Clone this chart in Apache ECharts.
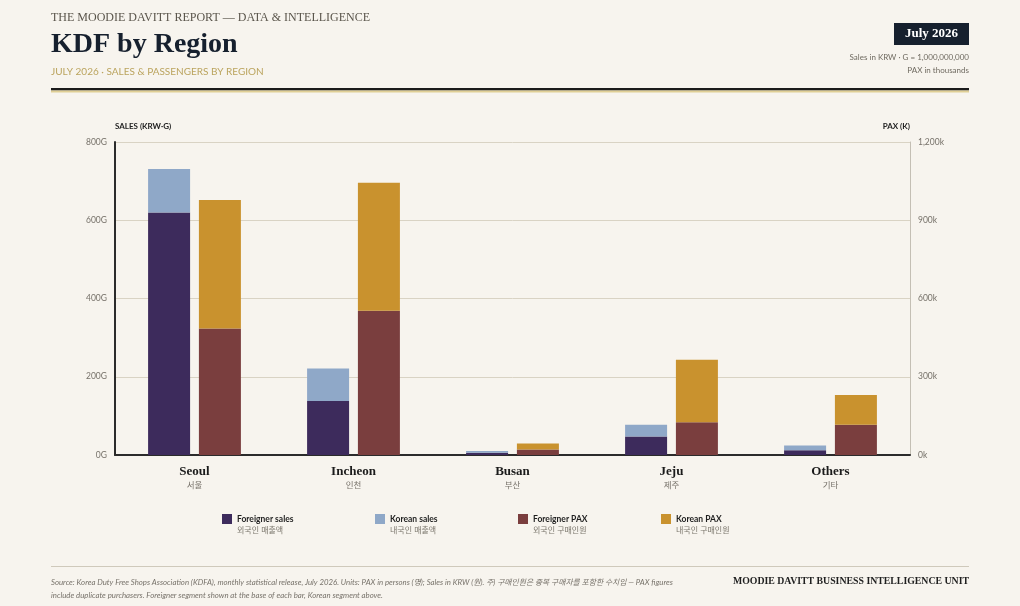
<!DOCTYPE html>
<html>
<head>
<meta charset="utf-8">
<script src="https://cdn.jsdelivr.net/npm/echarts@6/dist/echarts.min.js"></script>
<style>
  html, body { margin: 0; padding: 0; background: #f7f4ee; }
  #chart { width: 1020px; height: 606px; }
</style>
</head>
<body>
<div id="chart"></div>
<script>
// values (sales in G KRW, pax in thousands)
const regions = ['Seoul', 'Incheon', 'Busan', 'Jeju', 'Others'];
const regionsKo = ['서울', '인천', '부산', '제주', '기타'];
const foreignerSales = [620, 138, 6, 47, 12];
const koreanSales = [111, 83, 4, 30, 12];
const foreignerPax = [485, 553, 21, 126, 116];
const koreanPax = [493, 491, 23, 239, 114];

const seriesNames = ['Foreigner sales', 'Korean sales', 'Foreigner PAX', 'Korean PAX'];
const seriesNamesKo = ['외국인 매출액', '내국인 매출액', '외국인 구매인원', '내국인 구매인원'];
const seriesColors = ['#3d2b5c', '#8fa8c8', '#7a3e3e', '#c9922e'];

const salesTicks = { min: 0, max: 800, interval: 200 };
const paxTicks = { min: 0, max: 1200, interval: 300 };

const SERIF = '"Liberation Serif", "DejaVu Serif", serif';
const SANS = 'Lato, "Noto Sans", "Noto Sans CJK KR", sans-serif';
const ITALIC_SANS = 'Lato, "Noto Sans CJK KR", sans-serif';

const chart = echarts.init(document.getElementById('chart'), null, { renderer: 'canvas' });

const legendX = [222, 375, 518, 661];
const legends = seriesNames.map((name, i) => ({
  data: [name],
  left: legendX[i],
  top: 514,
  padding: 0,
  icon: 'rect',
  itemWidth: 10,
  itemHeight: 10,
  itemGap: 0,
  selectedMode: false,
  formatter: n => '{a|' + n + '}\n{b|' + seriesNamesKo[i] + '}',
  textStyle: {
    padding: [11, 0, 0, 0],
    rich: {
      a: { fontFamily: SANS, fontWeight: 'bold', fontSize: 8.5, color: '#1f1f1f', lineHeight: 11 },
      b: { fontFamily: SANS, fontSize: 8, color: '#7a756b', lineHeight: 11 }
    }
  }
}));

function barSeries(i, data, stack, axis) {
  return {
    name: seriesNames[i],
    type: 'bar',
    stack: stack,
    yAxisIndex: axis,
    data: data,
    barWidth: 42,
    barGap: '21%',
    itemStyle: { color: seriesColors[i] },
    emphasis: { disabled: true }
  };
}

chart.setOption({
  backgroundColor: '#f7f4ee',
  animation: false,
  grid: { left: 115, right: 110, top: 142, bottom: 151 },
  legend: legends,
  xAxis: {
    type: 'category',
    data: regions,
    axisTick: { show: false },
    axisLine: { lineStyle: { color: '#2b2b2b', width: 2 } },
    axisLabel: {
      margin: 9,
      formatter: (v, idx) => '{a|' + v + '}\n{b|' + regionsKo[idx] + '}',
      rich: {
        a: { fontFamily: SERIF, fontWeight: 'bold', fontSize: 13, color: '#1b1b1b', lineHeight: 15 },
        b: { fontFamily: SANS, fontSize: 8.5, color: '#77726a', lineHeight: 13 }
      }
    }
  },
  yAxis: [
    {
      type: 'value',
      min: salesTicks.min, max: salesTicks.max, interval: salesTicks.interval,
      name: 'SALES (KRW·G)',
      nameLocation: 'end',
      nameGap: 12,
      nameTextStyle: { align: 'left', fontFamily: SANS, fontWeight: 'bold', fontSize: 8, color: '#222' },
      axisLine: { show: true, lineStyle: { color: '#2b2b2b', width: 2 } },
      axisTick: { show: false },
      splitLine: { lineStyle: { color: '#d9d3c4', width: 1 } },
      axisLabel: { formatter: '{value}G', fontFamily: SANS, fontSize: 8.5, color: '#77726a', margin: 8 }
    },
    {
      type: 'value',
      min: paxTicks.min, max: paxTicks.max, interval: paxTicks.interval,
      name: 'PAX (K)',
      nameLocation: 'end',
      nameGap: 12,
      nameTextStyle: { align: 'right', fontFamily: SANS, fontWeight: 'bold', fontSize: 8, color: '#222' },
      axisLine: { show: true, lineStyle: { color: '#c4bfb4', width: 1 } },
      axisTick: { show: false },
      splitLine: { show: false },
      axisLabel: {
        formatter: v => v.toLocaleString('en-US') + 'k',
        fontFamily: SANS, fontSize: 8.5, color: '#77726a', margin: 8
      }
    }
  ],
  series: [
    barSeries(0, foreignerSales, 'sales', 0),
    barSeries(1, koreanSales, 'sales', 0),
    barSeries(2, foreignerPax, 'pax', 1),
    barSeries(3, koreanPax, 'pax', 1)
  ],
  graphic: [
    // header
    { type: 'text', left: 51, top: 12, style: { text: 'THE MOODIE DAVITT REPORT — DATA & INTELLIGENCE', font: '12px ' + SERIF, fill: '#5a554b' } },
    { type: 'text', left: 51, top: 31, style: { text: 'KDF by Region', font: 'bold 28px ' + SERIF, fill: '#16202e' } },
    { type: 'text', left: 51, top: 67, style: { text: 'JULY 2026 · SALES & PASSENGERS BY REGION', font: '10px ' + SANS, fill: '#bba45e' } },
    { type: 'rect', shape: { x: 51, y: 88, width: 918, height: 2.5 }, style: { fill: '#1b1b1b' } },
    { type: 'rect', shape: { x: 51, y: 90.5, width: 918, height: 2 }, style: { fill: '#e0cf95' } },
    { type: 'rect', shape: { x: 894, y: 23, width: 75, height: 22 }, style: { fill: '#16202e' } },
    { type: 'text', x: 931.5, y: 34, style: { text: 'July 2026', font: 'bold 13px ' + SERIF, fill: '#ffffff', align: 'center', verticalAlign: 'middle' } },
    { type: 'text', x: 969, y: 57, style: { text: 'Sales in KRW · G = 1,000,000,000', font: '8px ' + SANS, fill: '#6f6a60', align: 'right', verticalAlign: 'middle' } },
    { type: 'text', x: 969, y: 70, style: { text: 'PAX in thousands', font: '8px ' + SANS, fill: '#6f6a60', align: 'right', verticalAlign: 'middle' } },
    // footer
    { type: 'rect', shape: { x: 51, y: 566, width: 918, height: 1 }, style: { fill: '#cfc9bb' } },
    { type: 'text', left: 51, top: 576, style: {
        text: 'Source: Korea Duty Free Shops Association (KDFA), monthly statistical release, July 2026. Units: PAX in persons (명); Sales in KRW (원). 주) 구매인원은 중복 구매자를 포함한 수치임 — PAX figures\ninclude duplicate purchasers. Foreigner segment shown at the base of each bar, Korean segment above.',
        font: 'italic 7.8px ' + ITALIC_SANS, fill: '#77726a', lineHeight: 13 } },
    { type: 'text', x: 969, y: 581, style: { text: 'MOODIE DAVITT BUSINESS INTELLIGENCE UNIT', font: 'bold 9.8px ' + SERIF, fill: '#1f1f1f', align: 'right', verticalAlign: 'middle' } }
  ]
});
</script>
</body>
</html>
